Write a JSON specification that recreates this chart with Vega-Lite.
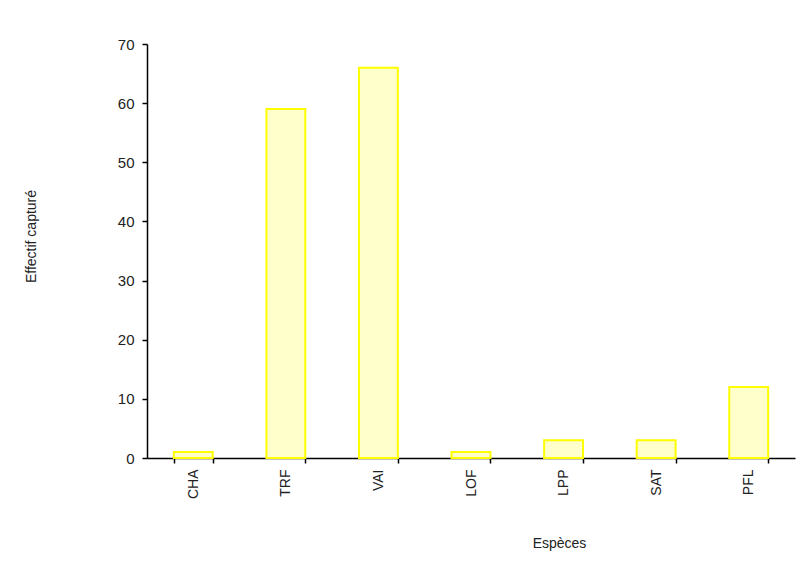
{
  "$schema": "https://vega.github.io/schema/vega-lite/v6.json",
  "width": 648,
  "height": 414,
  "autosize": {"type": "none"},
  "padding": {"left": 147, "top": 44, "right": 7, "bottom": 108},
  "background": "white",
  "config": {
    "view": {"stroke": null},
    "font": "Liberation Sans",
    "axis": {"grid": false, "domainColor": "#000", "tickColor": "#000", "domainWidth": 1.5, "tickWidth": 1.5, "labelColor": "#222", "titleColor": "#222", "labelFont": "Liberation Sans", "titleFont": "Liberation Sans", "titleFontWeight": "normal"}
  },
  "data": {
    "values": [
      {"espece": "CHA", "effectif": 1},
      {"espece": "TRF", "effectif": 59},
      {"espece": "VAI", "effectif": 66},
      {"espece": "LOF", "effectif": 1},
      {"espece": "LPP", "effectif": 3},
      {"espece": "SAT", "effectif": 3},
      {"espece": "PFL", "effectif": 12}
    ]
  },
  "mark": {"type": "bar", "fill": "#FFFFCC", "stroke": "#FFFF00", "strokeWidth": 2},
  "encoding": {
    "x": {
      "field": "espece",
      "type": "nominal",
      "sort": null,
      "scale": {"paddingInner": 0.58, "paddingOuter": 0.29},
      "axis": {
        "title": "Espèces",
        "labelAngle": -90,
        "labelFontSize": 14,
        "labelPadding": 6,
        "tickSize": 5,
        "tickBand": "extent",
        "titleFontSize": 14,
        "titleX": 412,
        "titleY": 85,
        "titleAlign": "center",
        "titleBaseline": "middle"
      }
    },
    "y": {
      "field": "effectif",
      "type": "quantitative",
      "scale": {"domain": [0, 70]},
      "axis": {
        "title": "Effectif capturé",
        "values": [0, 10, 20, 30, 40, 50, 60, 70],
        "labelFontSize": 15,
        "labelPadding": 8,
        "tickSize": 5,
        "titleFontSize": 14,
        "titleX": -116,
        "titleY": 192,
        "titleAngle": -90,
        "titleAlign": "center",
        "titleBaseline": "middle"
      }
    }
  }
}
